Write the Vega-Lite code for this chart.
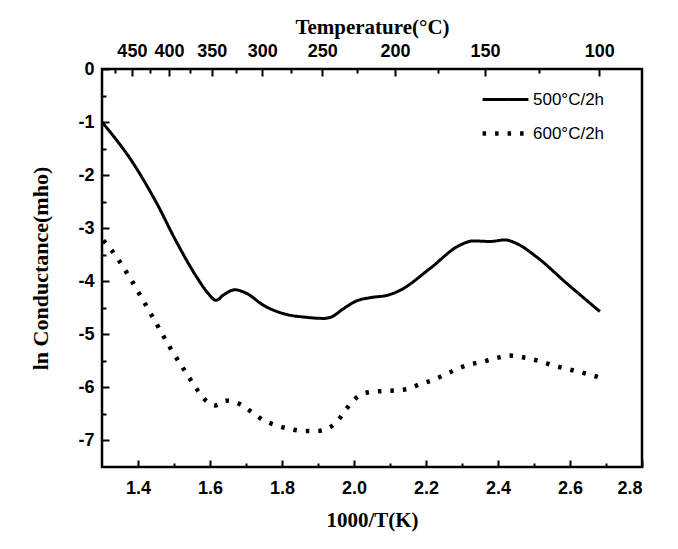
{
  "$schema": "https://vega.github.io/schema/vega-lite/v6.json",
  "width": 540,
  "height": 398,
  "autosize": {"type": "none"},
  "padding": {"left": 102, "top": 69, "right": 36, "bottom": 82},
  "background": "white",
  "config": {
    "view": {"stroke": "black", "strokeWidth": 2.5},
    "axis": {
      "domain": false,
      "grid": false,
      "tickColor": "black",
      "tickWidth": 2,
      "labelFont": "Liberation Sans",
      "labelFontWeight": 700,
      "labelFontSize": 18,
      "labelColor": "black",
      "titleFont": "Liberation Serif",
      "titleFontWeight": "bold",
      "titleFontSize": 21,
      "titleColor": "black"
    }
  },
  "data": {
    "values": [
      {"series": "500°C/2h", "x": 1.300, "y": -1.00},
      {"series": "500°C/2h", "x": 1.387, "y": -1.78},
      {"series": "500°C/2h", "x": 1.452, "y": -2.53},
      {"series": "500°C/2h", "x": 1.507, "y": -3.26},
      {"series": "500°C/2h", "x": 1.563, "y": -3.92},
      {"series": "500°C/2h", "x": 1.595, "y": -4.23},
      {"series": "500°C/2h", "x": 1.617, "y": -4.36},
      {"series": "500°C/2h", "x": 1.637, "y": -4.26},
      {"series": "500°C/2h", "x": 1.669, "y": -4.16},
      {"series": "500°C/2h", "x": 1.702, "y": -4.23},
      {"series": "500°C/2h", "x": 1.748, "y": -4.45},
      {"series": "500°C/2h", "x": 1.804, "y": -4.61},
      {"series": "500°C/2h", "x": 1.869, "y": -4.68},
      {"series": "500°C/2h", "x": 1.915, "y": -4.70},
      {"series": "500°C/2h", "x": 1.938, "y": -4.67},
      {"series": "500°C/2h", "x": 1.970, "y": -4.52},
      {"series": "500°C/2h", "x": 2.007, "y": -4.37},
      {"series": "500°C/2h", "x": 2.044, "y": -4.31},
      {"series": "500°C/2h", "x": 2.095, "y": -4.26},
      {"series": "500°C/2h", "x": 2.128, "y": -4.17},
      {"series": "500°C/2h", "x": 2.211, "y": -3.76},
      {"series": "500°C/2h", "x": 2.294, "y": -3.32},
      {"series": "500°C/2h", "x": 2.331, "y": -3.24},
      {"series": "500°C/2h", "x": 2.378, "y": -3.25},
      {"series": "500°C/2h", "x": 2.419, "y": -3.22},
      {"series": "500°C/2h", "x": 2.452, "y": -3.29},
      {"series": "500°C/2h", "x": 2.507, "y": -3.54},
      {"series": "500°C/2h", "x": 2.591, "y": -4.04},
      {"series": "500°C/2h", "x": 2.683, "y": -4.57},
      {"series": "600°C/2h", "x": 1.304, "y": -3.23},
      {"series": "600°C/2h", "x": 1.327, "y": -3.42},
      {"series": "600°C/2h", "x": 1.348, "y": -3.62},
      {"series": "600°C/2h", "x": 1.378, "y": -3.94},
      {"series": "600°C/2h", "x": 1.415, "y": -4.37},
      {"series": "600°C/2h", "x": 1.452, "y": -4.81},
      {"series": "600°C/2h", "x": 1.489, "y": -5.25},
      {"series": "600°C/2h", "x": 1.532, "y": -5.71},
      {"series": "600°C/2h", "x": 1.563, "y": -6.03},
      {"series": "600°C/2h", "x": 1.586, "y": -6.23},
      {"series": "600°C/2h", "x": 1.614, "y": -6.34},
      {"series": "600°C/2h", "x": 1.646, "y": -6.25},
      {"series": "600°C/2h", "x": 1.685, "y": -6.32},
      {"series": "600°C/2h", "x": 1.719, "y": -6.48},
      {"series": "600°C/2h", "x": 1.746, "y": -6.61},
      {"series": "600°C/2h", "x": 1.782, "y": -6.71},
      {"series": "600°C/2h", "x": 1.820, "y": -6.78},
      {"series": "600°C/2h", "x": 1.859, "y": -6.82},
      {"series": "600°C/2h", "x": 1.899, "y": -6.82},
      {"series": "600°C/2h", "x": 1.922, "y": -6.79},
      {"series": "600°C/2h", "x": 1.952, "y": -6.65},
      {"series": "600°C/2h", "x": 1.977, "y": -6.42},
      {"series": "600°C/2h", "x": 2.006, "y": -6.20},
      {"series": "600°C/2h", "x": 2.042, "y": -6.09},
      {"series": "600°C/2h", "x": 2.077, "y": -6.07},
      {"series": "600°C/2h", "x": 2.112, "y": -6.06},
      {"series": "600°C/2h", "x": 2.149, "y": -6.03},
      {"series": "600°C/2h", "x": 2.183, "y": -5.94},
      {"series": "600°C/2h", "x": 2.219, "y": -5.86},
      {"series": "600°C/2h", "x": 2.256, "y": -5.75},
      {"series": "600°C/2h", "x": 2.278, "y": -5.68},
      {"series": "600°C/2h", "x": 2.315, "y": -5.58},
      {"series": "600°C/2h", "x": 2.355, "y": -5.52},
      {"series": "600°C/2h", "x": 2.394, "y": -5.45},
      {"series": "600°C/2h", "x": 2.433, "y": -5.40},
      {"series": "600°C/2h", "x": 2.475, "y": -5.44},
      {"series": "600°C/2h", "x": 2.517, "y": -5.51},
      {"series": "600°C/2h", "x": 2.556, "y": -5.59},
      {"series": "600°C/2h", "x": 2.597, "y": -5.66},
      {"series": "600°C/2h", "x": 2.639, "y": -5.73},
      {"series": "600°C/2h", "x": 2.681, "y": -5.81}
    ]
  },
  "layer": [
    {
      "mark": {"type": "line", "color": "black", "interpolate": "monotone", "strokeCap": "butt"},
      "encoding": {
        "x": {
          "field": "x", "type": "quantitative",
          "scale": {"domain": [1.3, 2.8], "nice": false, "zero": false},
          "axis": {"orient": "bottom", "values": [1.4, 1.6, 1.8, 2.0, 2.2, 2.4, 2.6, 2.8], "format": ".1f", "tickSize": -7, "labelPadding": 19, "labelFontWeight": "bold", "title": "1000/T(K)", "titlePadding": 12}
        },
        "y": {
          "field": "y", "type": "quantitative",
          "scale": {"domain": [-7.5, 0], "nice": false, "zero": false},
          "axis": {"orient": "left", "values": [0, -1, -2, -3, -4, -5, -6, -7], "labelExpr": "'' + datum.value", "tickSize": -7, "labelPadding": 15, "labelFontWeight": "bold", "title": "ln Conductance(mho)", "titleFontSize": 22, "titlePadding": 25}
        },
        "strokeDash": {
          "field": "series", "type": "nominal",
          "scale": {"domain": ["500°C/2h", "600°C/2h"], "range": [[1, 0], [3.5, 9]]},
          "legend": {
            "orient": "none", "legendX": 378, "legendY": 6, "title": null,
            "symbolType": "stroke", "symbolSize": 2100, "symbolStrokeWidth": 4, "symbolStrokeColor": "black",
            "labelFont": "Liberation Sans", "labelFontSize": 17, "labelColor": "black",
            "rowPadding": -18, "labelOffset": 2
          }
        },
        "strokeWidth": {
          "field": "series", "type": "nominal",
          "scale": {"domain": ["500°C/2h", "600°C/2h"], "range": [3, 4.5]},
          "legend": null
        }
      }
    },
    {
      "mark": {"type": "point", "opacity": 0},
      "encoding": {
        "x": {
          "field": "x", "type": "quantitative",
          "scale": {"domain": [1.3, 2.8], "nice": false, "zero": false},
          "axis": {"orient": "top", "values": [1.383, 1.486, 1.605, 1.745, 1.912, 2.114, 2.364, 2.681], "labelExpr": "format(round(1000/datum.value - 273), 'd')", "tickSize": -7, "labelPadding": 16, "labelFontWeight": "bold", "title": "Temperature(°C)", "titlePadding": 5}
        },
        "y": {"field": "y", "type": "quantitative", "scale": {"domain": [-7.5, 0], "nice": false, "zero": false}, "axis": null}
      }
    },
    {
      "mark": {"type": "point", "opacity": 0},
      "encoding": {
        "x": {
          "field": "x", "type": "quantitative",
          "scale": {"domain": [1.3, 2.8], "nice": false, "zero": false},
          "axis": {"orient": "top", "values": [1.3369, 1.4327, 1.5432, 1.6722, 1.8248, 2.008, 2.2321, 2.5126], "labels": false, "tickSize": -4, "title": null}
        },
        "y": {
          "field": "y", "type": "quantitative", "scale": {"domain": [-7.5, 0], "nice": false, "zero": false},
          "axis": {"orient": "left", "values": [-0.5, -1.5, -2.5, -3.5, -4.5, -5.5, -6.5], "labels": false, "tickSize": -4, "title": null}
        }
      }
    },
    {
      "mark": {"type": "point", "opacity": 0},
      "encoding": {
        "x": {
          "field": "x", "type": "quantitative",
          "scale": {"domain": [1.3, 2.8], "nice": false, "zero": false},
          "axis": {"orient": "bottom", "values": [1.5, 1.7, 1.9, 2.1, 2.3, 2.5, 2.7], "labels": false, "tickSize": -4, "title": null}
        },
        "y": {"field": "y", "type": "quantitative", "scale": {"domain": [-7.5, 0], "nice": false, "zero": false}, "axis": null}
      }
    }
  ],
  "resolve": {"axis": {"x": "independent", "y": "independent"}}
}
